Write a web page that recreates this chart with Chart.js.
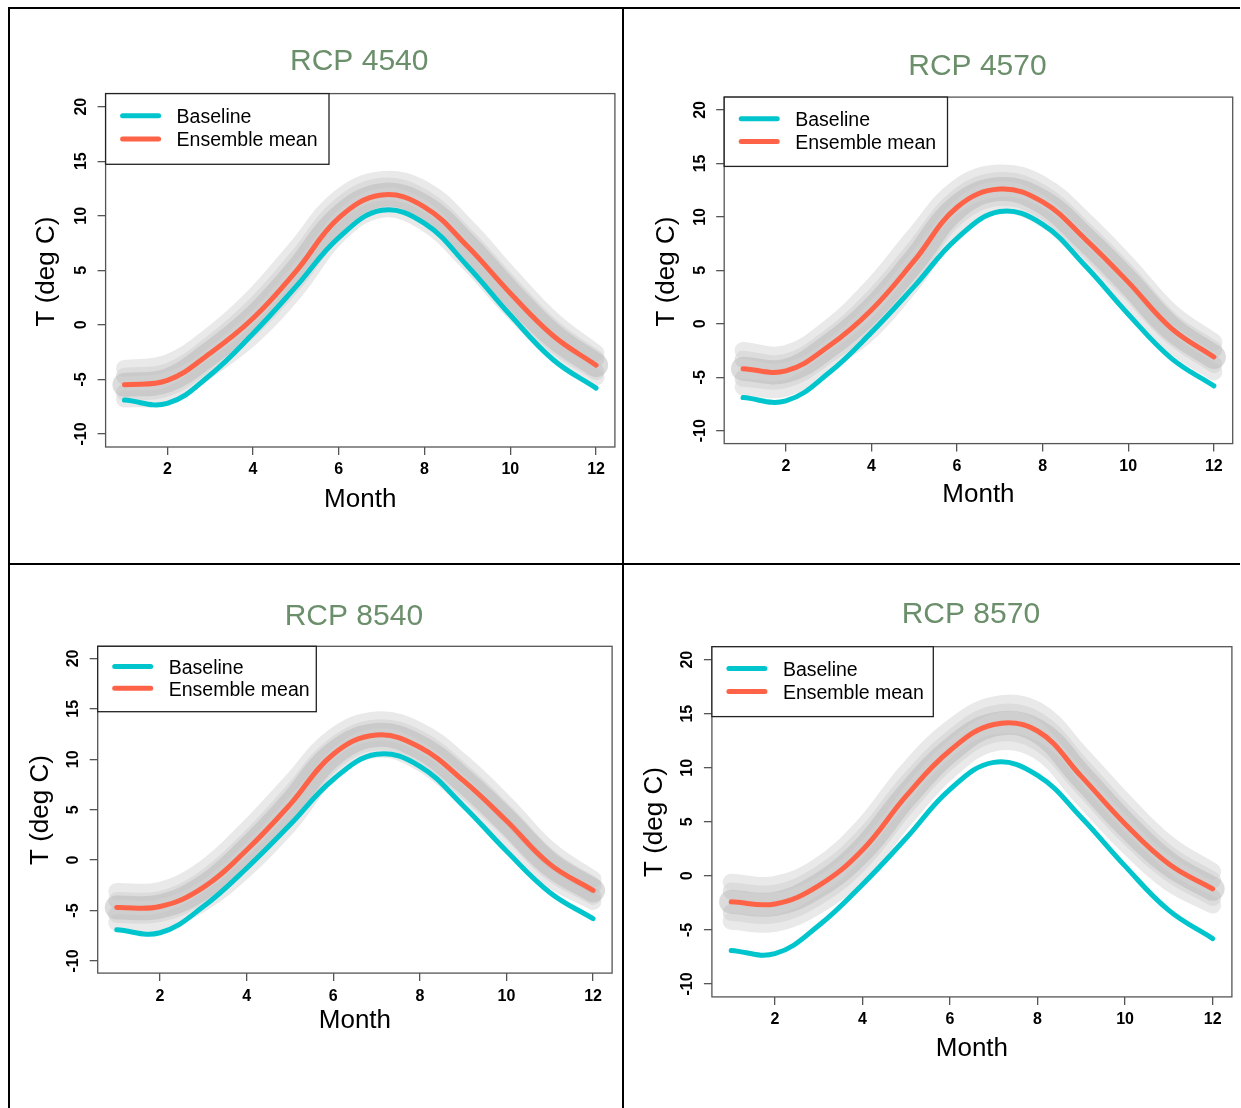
<!DOCTYPE html>
<html>
<head>
<meta charset="utf-8">
<title>RCP ensembles</title>
<script src="https://cdn.jsdelivr.net/npm/chart.js@4.4.1/dist/chart.umd.min.js"></script>
<style>
	html, body { margin: 0; padding: 0; background: #fff; }
	#page { position: relative; width: 1241px; height: 1108px; overflow: hidden; }
	#page canvas { position: absolute; left: 0; top: 0; }
	.rule { position: absolute; background: #000; }
</style>
</head>
<body>
<div id="page">
	<div class="rule" style="left:8px; top:7px; width:1232px; height:2px;"></div>
	<div class="rule" style="left:8px; top:7px; width:2px; height:1101px;"></div>
	<div class="rule" style="left:622px; top:7px; width:2px; height:1101px;"></div>
	<div class="rule" style="left:8px; top:563px; width:1232px; height:2px;"></div>
</div>
<script>

	/*
	 * Values.
	 *
	 */
	const months = [ 1, 2, 3, 4, 5, 6, 7, 8, 9, 10, 11, 12 ];
	const monthTicks = [ 2, 4, 6, 8, 10, 12 ];
	const tempTicks = [ -10, -5, 0, 5, 10, 15, 20 ];
	
	// Observed baseline, same in every panel.
	const baseline = [ -6.9, -7.2, -4.6, -0.8, 3.5, 8.0, 10.5, 9.3, 5.4, 0.9, -3.2, -5.8 ];
	
	// RCP 4540
	const mean4540 = [ -5.5, -5.1, -2.6, 0.6, 4.9, 9.8, 11.9, 10.8, 7.2, 2.9, -1.0, -3.7 ];
	const outerHi4540 = [ -4.0, -3.5, -1.0, 2.5, 7.0, 11.6, 13.3, 12.4, 8.9, 4.5, 0.4, -2.6 ];
	const outerLo4540 = [ -6.8, -6.5, -4.0, -1.0, 3.2, 8.3, 10.6, 9.4, 5.8, 1.5, -2.3, -4.8 ];
	const innerHi4540 = [ -4.7, -4.3, -1.8, 1.6, 6.0, 10.8, 12.7, 11.6, 8.0, 3.7, -0.3, -3.1 ];
	const innerLo4540 = [ -6.2, -5.8, -3.3, -0.2, 4.0, 9.0, 11.2, 10.1, 6.5, 2.2, -1.7, -4.3 ];
	
	// RCP 4570
	const mean4570 = [ -4.2, -4.4, -2.1, 1.3, 5.9, 10.9, 12.6, 11.4, 7.9, 3.9, -0.4, -3.1 ];
	const outerHi4570 = [ -2.5, -2.8, -0.4, 3.4, 8.2, 12.7, 14.1, 13.0, 9.6, 5.5, 1.1, -1.7 ];
	const outerLo4570 = [ -5.9, -6.0, -3.6, -0.6, 4.0, 9.2, 11.1, 9.9, 6.3, 2.3, -1.9, -4.5 ];
	const innerHi4570 = [ -3.3, -3.6, -1.3, 2.3, 7.0, 11.8, 13.4, 12.2, 8.7, 4.7, 0.3, -2.4 ];
	const innerLo4570 = [ -5.1, -5.2, -2.9, 0.3, 4.9, 10.0, 11.8, 10.6, 7.1, 3.1, -1.1, -3.8 ];
	
	// RCP 8540
	const mean8540 = [ -4.7, -4.6, -2.7, 1.0, 5.5, 10.5, 12.4, 11.2, 7.9, 3.9, -0.4, -3.0 ];
	const outerHi8540 = [ -3.1, -3.0, -0.9, 3.0, 7.6, 12.2, 13.9, 12.8, 9.6, 5.5, 1.0, -1.9 ];
	const outerLo8540 = [ -6.2, -6.1, -4.2, -0.8, 3.6, 8.9, 11.0, 9.7, 6.3, 2.4, -1.8, -4.1 ];
	const innerHi8540 = [ -4.0, -3.9, -1.9, 1.9, 6.5, 11.3, 13.1, 12.0, 8.7, 4.6, 0.2, -2.5 ];
	const innerLo8540 = [ -5.4, -5.3, -3.4, 0.1, 4.5, 9.7, 11.7, 10.4, 7.1, 3.2, -1.1, -3.6 ];
	
	// RCP 8570
	const mean8570 = [ -2.4, -2.6, -0.9, 2.4, 7.4, 11.6, 14.0, 13.4, 9.2, 4.8, 1.1, -1.2 ];
	const outerHi8570 = [ -0.6, -0.8, 0.9, 4.5, 9.6, 13.6, 15.8, 15.3, 11.2, 6.8, 2.9, 0.4 ];
	const outerLo8570 = [ -4.2, -4.4, -2.7, 0.5, 5.4, 9.8, 12.3, 11.6, 7.3, 3.0, -0.6, -2.7 ];
	const innerHi8570 = [ -1.4, -1.6, 0.1, 3.5, 8.5, 12.6, 15.0, 14.4, 10.2, 5.8, 2.0, -0.4 ];
	const innerLo8570 = [ -3.4, -3.6, -1.9, 1.4, 6.4, 10.7, 13.1, 12.4, 8.3, 3.9, 0.3, -2.0 ];
	
	/*
	 * Where each panel sits on the page.
	 *
	 */
	const panels = [
		{
			title: "RCP 4540", mean: mean4540,
			members: [ outerHi4540, outerLo4540, innerHi4540, innerLo4540 ],
			box: { l: 105.6, r: 614.9, t: 93.6, b: 447 },
			legend: { r: 329, b: 164.3 },
			titleY: 70.4, monthY: 507, ylabX: 54.2, ylabY: 271.5
		},
		{
			title: "RCP 4570", mean: mean4570,
			members: [ outerHi4570, outerLo4570, innerHi4570, innerLo4570 ],
			box: { l: 724.2, r: 1232.7, t: 97.1, b: 443.6 },
			legend: { r: 947.5, b: 166.4 },
			titleY: 75, monthY: 502, ylabX: 673.6, ylabY: 271.5
		},
		{
			title: "RCP 8540", mean: mean8540,
			members: [ outerHi8540, outerLo8540, innerHi8540, innerLo8540 ],
			box: { l: 97.7, r: 612.1, t: 646.3, b: 973.1 },
			legend: { r: 316.3, b: 711.7 },
			titleY: 624.7, monthY: 1028.4, ylabX: 48.3, ylabY: 810
		},
		{
			title: "RCP 8570", mean: mean8570,
			members: [ outerHi8570, outerLo8570, innerHi8570, innerLo8570 ],
			box: { l: 711.9, r: 1231.9, t: 646.7, b: 996.9 },
			legend: { r: 933.3, b: 716.6 },
			titleY: 622.9, monthY: 1056, ylabX: 661.6, ylabY: 822
		}
	];
	
	const PAGE_W = 1241;
	const PAGE_H = 1108;
	const FONT = "'Liberation Sans', Arial, Helvetica, sans-serif";
	const CYAN = "#00c5cd";
	const TOMATO = "#ff6347";
	
	/*
	 * Zip months with values.
	 *
	 */
	const toPoints = values => months.map( ( m, i ) => ({ x: m, y: values[i] }) );
	
	/*
	 * R style frame: box, tick labels, titles, legend.
	 *
	 */
	const rFrame = {
		id: "rFrame",
		afterDatasetsDraw: function( chart, args, opts )
		{
			const ctx = chart.ctx;
			const area = chart.chartArea;
			const xs = chart.scales.x;
			const ys = chart.scales.y;
			
			ctx.save();
			
			// Plot box.
			ctx.strokeStyle = "#555";
			ctx.lineWidth = 1.3;
			ctx.strokeRect( area.left, area.top, area.right - area.left, area.bottom - area.top );
			
			// Tick labels.
			ctx.fillStyle = "#000";
			ctx.font = "bold 16px " + FONT;
			ctx.textAlign = "center";
			ctx.textBaseline = "middle";
			xs.ticks.forEach( t => ctx.fillText( String( t.value ), xs.getPixelForValue( t.value ), area.bottom + 23 ) );
			ys.ticks.forEach( t =>
			{
				ctx.save();
				ctx.translate( area.left - 24, ys.getPixelForValue( t.value ) );
				ctx.rotate( -Math.PI / 2 );
				ctx.fillText( String( t.value ), 0, 0 );
				ctx.restore();
			});
			
			// Axis titles.
			ctx.textBaseline = "alphabetic";
			ctx.font = "26px " + FONT;
			ctx.fillText( "Month", ( area.left + area.right ) / 2, opts.monthY );
			ctx.save();
			ctx.translate( opts.ylabX, opts.ylabY );
			ctx.rotate( -Math.PI / 2 );
			ctx.fillText( "T (deg C)", 0, 0 );
			ctx.restore();
			
			// Main title.
			ctx.fillStyle = "#6b8e6b";
			ctx.font = "30px " + FONT;
			ctx.fillText( opts.title, ( area.left + area.right ) / 2 - 1, opts.titleY );
			
			// Legend.
			const lx = area.left;
			const ly = area.top;
			const lw = opts.legendR - lx;
			const lh = opts.legendB - ly;
			ctx.fillStyle = "#fff";
			ctx.fillRect( lx, ly, lw, lh );
			ctx.strokeStyle = "#222";
			ctx.lineWidth = 1.3;
			ctx.strokeRect( lx, ly, lw, lh );
			
			const entries = chart.data.datasets.filter( d => d.label );
			entries.forEach( ( d, i ) =>
			{
				const y = ly + lh * ( i === 0 ? 0.333 : 0.664 );
				ctx.strokeStyle = d.borderColor;
				ctx.lineWidth = 5;
				ctx.lineCap = "round";
				ctx.beginPath();
				ctx.moveTo( lx + 17, y - 1.5 );
				ctx.lineTo( lx + 53, y - 1.5 );
				ctx.stroke();
				ctx.fillStyle = "#000";
				ctx.font = "19.5px " + FONT;
				ctx.textAlign = "left";
				ctx.textBaseline = "middle";
				ctx.fillText( d.label, lx + 71, y + 0.5 );
			});
			
			ctx.restore();
		}
	};
	
	/*
	 * Build one panel.
	 *
	 */
	function makePanel( p )
	{
		const canvas = document.createElement( "canvas" );
		canvas.width = PAGE_W;
		canvas.height = PAGE_H;
		document.getElementById( "page" ).appendChild( canvas );
		
		const memberStyle = [
			"rgba( 215,215,215,0.55 )",
			"rgba( 215,215,215,0.55 )",
			"rgba( 195,195,195,0.45 )",
			"rgba( 195,195,195,0.45 )"
		];
		
		const datasets = [
			{
				label: "Baseline",
				data: toPoints( baseline ),
				borderColor: CYAN,
				borderWidth: 5,
				order: 1
			},
			{
				label: "Ensemble mean",
				data: toPoints( p.mean ),
				borderColor: TOMATO,
				borderWidth: 5,
				order: 0
			},
			{
				data: toPoints( p.mean ),
				borderColor: "rgba( 185,185,185,0.5 )",
				borderWidth: 24,
				order: 2
			}
		];
		p.members.forEach( ( m, i ) => datasets.push({
			data: toPoints( m ),
			borderColor: memberStyle[i],
			borderWidth: 17,
			order: 3 + i
		}));
		
		const axis = ( ticks, horizontal ) => ({
			type: "linear",
			afterBuildTicks: scale => { scale.ticks = ticks.map( v => ({ value: v }) ); },
			afterFit: scale => { if( horizontal ) scale.height = 0; else scale.width = 0; },
			grid: {
				display: true,
				drawOnChartArea: false,
				drawTicks: true,
				tickLength: 8,
				color: "#555",
				lineWidth: 1.3
			},
			border: { display: false },
			ticks: { display: false }
		});
		
		return new Chart( canvas, {
			type: "line",
			data: { datasets: datasets },
			options: {
				responsive: false,
				animation: false,
				events: [],
				layout: {
					padding: {
						left: p.box.l,
						top: p.box.t,
						right: PAGE_W - p.box.r,
						bottom: PAGE_H - p.box.b
					}
				},
				elements: {
					point: { radius: 0 },
					line: {
						tension: 0.4,
						borderCapStyle: "round",
						borderJoinStyle: "round",
						fill: false
					}
				},
				scales: {
					x: Object.assign( axis( monthTicks, true ), { min: 0.56, max: 12.44 } ),
					y: Object.assign( axis( tempTicks, false ), { min: -11.2, max: 21.2 } )
				},
				plugins: {
					legend: { display: false },
					title: { display: false },
					tooltip: { enabled: false },
					rFrame: {
						title: p.title,
						titleY: p.titleY,
						monthY: p.monthY,
						ylabX: p.ylabX,
						ylabY: p.ylabY,
						legendR: p.legend.r,
						legendB: p.legend.b
					}
				}
			},
			plugins: [ rFrame ]
		});
	}
	
	panels.forEach( makePanel );
	
</script>
</body>
</html>
